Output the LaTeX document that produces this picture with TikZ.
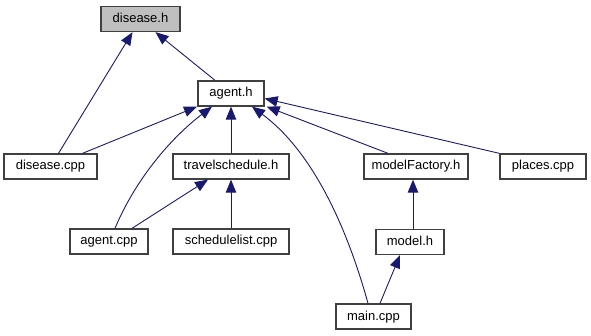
\documentclass[tikz,border=0pt]{standalone}
\usepackage{fontspec}
\setmainfont{Liberation Sans}
\usetikzlibrary{arrows.meta}
\definecolor{edgeblue}{HTML}{191970}
\definecolor{rootfill}{HTML}{BFBFBF}
\begin{document}
\begin{tikzpicture}[x=1pt,y=-1pt,
  file/.style={draw=black!75,line width=1.3pt,fill=white,minimum height=25pt,
    inner sep=0pt,font=\fontsize{13}{15}\selectfont,text height=9.5pt,text depth=2.5pt},
  root/.style={file,fill=rootfill},
  dep/.style={draw=edgeblue,line width=0.9pt,
    -{Triangle[length=13pt,width=10.5pt,fill=edgeblue]}}]
\useasboundingbox (0,0) rectangle (591,336);

% files
\node[root,minimum width=79pt] (dh)  at (140.5,19)  {disease.h};
\node[file,minimum width=66pt] (ah)  at (231,93.5)  {agent.h};
\node[file,minimum width=93pt] (dc)  at (50.5,166.5) {disease.cpp};
\node[file,minimum width=116pt] (ts) at (231,166.5) {travelschedule.h};
\node[file,minimum width=104pt] (mf) at (416,166.5) {modelFactory.h};
\node[file,minimum width=86pt] (pc)  at (543,166.5) {places.cpp};
\node[file,minimum width=78pt] (ac)  at (109,241.5) {agent.cpp};
\node[file,minimum width=116pt] (sl) at (231,241.5) {schedulelist.cpp};
\node[file,minimum width=68pt] (mh)  at (410,242)   {model.h};
\node[file,minimum width=75pt] (mc)  at (373.5,316.5) {main.cpp};

% include dependencies
\draw[dep] ([xshift=8pt]dc.north) -- ([xshift=-8pt]dh.south);
\draw[dep] ([xshift=-16pt]ah.north) -- ([xshift=15pt]dh.south);
\draw[dep] ([xshift=32pt]dc.north) -- ([xshift=-34pt]ah.south);
\draw[dep] ([xshift=6pt]ac.north) .. controls +(20,-48) and +(-42,32) .. ([xshift=-19pt]ah.south);
\draw[dep] (ts.north) -- (ah.south);
\draw[dep] ([xshift=-5.5pt]mc.north) .. controls +(-23,-83) and +(58,43) .. ([xshift=21pt]ah.south);
\draw[dep] ([xshift=-28pt]mf.north) -- ([xshift=2pt]ah.south east);
\draw[dep] (pc.north west) -- ([yshift=-5pt]ah.east);
\draw[dep] ([xshift=23pt]ac.north) -- ([xshift=-23pt]ts.south);
\draw[dep] (sl.north) -- (ts.south);
\draw[dep] ([xshift=3pt]mh.north) -- ([xshift=-3pt]mf.south);
\draw[dep] ([xshift=6.5pt]mc.north) -- ([xshift=-10pt]mh.south);
\end{tikzpicture}
\end{document}
